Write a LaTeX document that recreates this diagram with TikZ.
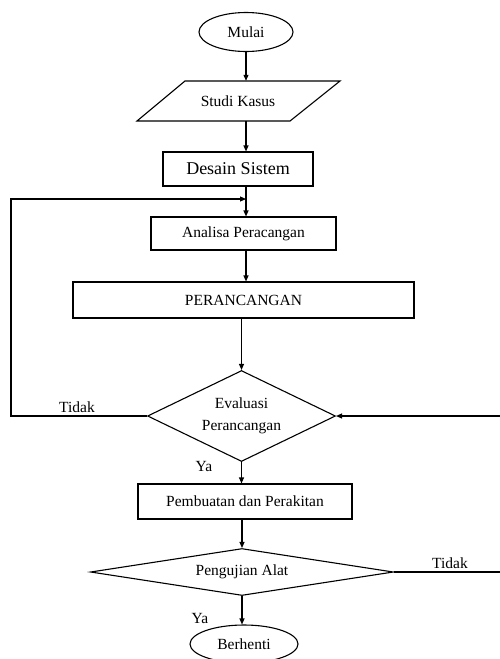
\documentclass[tikz,border=0pt]{standalone}
\usepackage{fontspec}
\setmainfont{Liberation Serif}
\usetikzlibrary{shapes.geometric,arrows.meta}
\tikzset{
  ln/.style={line width=1.1pt},
  arr/.style={ln,-{Triangle[length=6pt,width=5pt]}},
  txt/.style={font=\fontsize{15.5}{22}\selectfont},
  boxnode/.style={draw,ln,txt,rectangle,inner sep=0pt},
  term/.style={draw,ln,txt,ellipse,inner sep=0pt},
  dec/.style={draw,ln,txt,diamond,inner sep=0pt,align=center},
  lbl/.style={txt,inner sep=0pt}
}
\begin{document}
\begin{tikzpicture}[x=1pt,y=-1pt]
\useasboundingbox (0,0) rectangle (500,659);
% nodes
\node[term,minimum width=94pt,minimum height=39pt] (mulai) at (246,32) {Mulai};
\node[txt,minimum width=150pt,minimum height=40pt,inner sep=0pt] (studi) at (238,101) {Studi Kasus};
\draw[ln] (185,81) -- (340,81) -- (290,121) -- (137,121) -- cycle;
\node[boxnode,minimum width=150pt,minimum height=34pt,font=\fontsize{18}{22}\selectfont] (desain) at (238,169) {Desain Sistem};
\node[boxnode,minimum width=185pt,minimum height=33pt] (analisa) at (243.5,233.5) {Analisa Peracangan};
\node[boxnode,minimum width=341pt,minimum height=36pt] (peran) at (243.5,300) {PERANCANGAN};
\node[dec,minimum width=188pt,minimum height=91pt,aspect=2.07] (eval) at (241.5,416) {Evaluasi\\Perancangan};
\node[boxnode,minimum width=214pt,minimum height=35pt] (pemb) at (245,501.5) {Pembuatan dan Perakitan};
\node[dec,minimum width=303pt,minimum height=47pt,aspect=6.45] (uji) at (242,572) {Pengujian Alat};
\node[term,minimum width=108pt,minimum height=38pt] (stop) at (244,644) {Berhenti};
% labels
\node[lbl] (t1) at (77,407) {Tidak};
\node[lbl] (t2) at (450,563) {Tidak};
\node[lbl] (y1) at (204,466) {Ya};
\node[lbl] (y2) at (200,618) {Ya};
% coordinates
\coordinate (fl) at (11,416);
\coordinate (join) at (246,199);
\coordinate (rb) at (504,572);
\coordinate (ra) at (504,416);
% connectors
\draw[arr] (mulai.south) -- (mulai.south |- studi.north);
\draw[arr] (desain.south -| mulai) -- (analisa.north -| mulai);
\draw[arr] (mulai |- studi.south) -- (desain.north -| mulai);
\draw[arr] (analisa.south -| mulai) -- (peran.north -| mulai);
\draw[arr] (peran.south -| eval) -- (eval.north);
\draw[arr] (eval.south) -- (pemb.north -| eval);
\draw[arr] (pemb.south -| uji) -- (uji.north);
\draw[arr] (uji.south) -- (uji.south |- stop.north);
\draw[arr] (eval.west) -- (fl) |- (join);
\draw[arr] (uji.east) -- (rb) -- (ra) -- (eval.east);
\end{tikzpicture}
\end{document}
